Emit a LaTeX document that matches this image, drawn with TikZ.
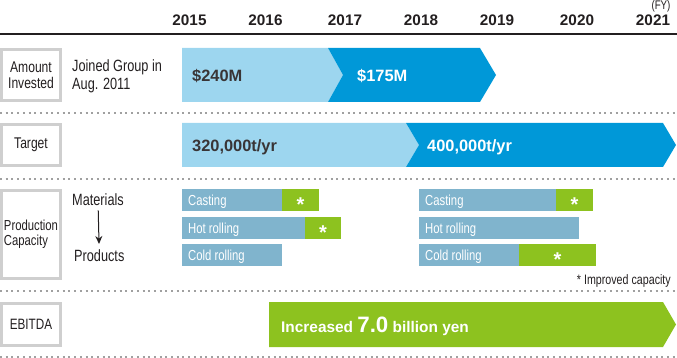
\documentclass[tikz,border=0pt]{standalone}
\usepackage{fontspec}
\setmainfont{Liberation Sans}
\newfontfamily\condfont[FakeStretch=0.78]{Liberation Sans}
\usepackage{xcolor}
\usetikzlibrary{positioning, arrows.meta}

\definecolor{lightblue}{HTML}{9DD6EF}
\definecolor{darkblue}{HTML}{0098D8}
\definecolor{steelbar}{HTML}{80B4CD}
\definecolor{limegreen}{HTML}{8DC21F}
\definecolor{boxgray}{HTML}{CFCFCF}
\definecolor{dotgray}{HTML}{A0A0A0}
\definecolor{inkgray}{HTML}{231F20}

\begin{document}
\begin{tikzpicture}[
    x=1pt, y=-1pt,
    rowlabel/.style={rectangle, draw=boxgray, line width=2.6pt, fill=white, align=center, inner sep=0pt, minimum width=59.4pt, text=inkgray, font=\condfont\fontsize{15.5}{15.5}\selectfont},
    year/.style={anchor=base, inner sep=0pt, text=inkgray, font=\bfseries\fontsize{15.3}{18}\selectfont},
    plain/.style={inner sep=0pt, text=inkgray, font=\condfont\fontsize{16.3}{18}\selectfont},
    amount/.style={anchor=base west, inner sep=0pt, font=\bfseries\fontsize{16.4}{19}\selectfont},
    barlabel/.style={anchor=base west, inner sep=0pt, text=white, font=\condfont\fontsize{14.5}{15}\selectfont},
    improved/.style={anchor=base, inner sep=0pt, text=white, font=\bfseries\fontsize{20}{20}\selectfont},
    rowsep/.style={draw=dotgray, line width=1.1pt, dash pattern=on 2pt off 3.7pt},
    arrow/.style={-{Stealth[length=8pt, width=7pt]}, line width=1pt, inkgray}
]
\useasboundingbox (0,0) rectangle (677,358);

% years
\node[year] (y2015) at (189.5,26) {2015};
\node[year] (y2016) at (265.5,26) {2016};
\node[year] (y2017) at (345,26) {2017};
\node[year] (y2018) at (421,26) {2018};
\node[year] (y2019) at (497,26) {2019};
\node[year] (y2020) at (577,26) {2020};
\node[year] (y2021) at (653,26) {2021};
\node[plain, anchor=base, font=\condfont\fontsize{12.5}{14}\selectfont] (fy) at (661,10) {(FY)};
\draw[inkgray, line width=1.5pt] (0,34) -- (677,34);

% row separators
\draw[rowsep] (0,113) -- (677,113);
\draw[rowsep] (0,179) -- (677,179);
\draw[rowsep] (0,291) -- (677,291);
\draw[rowsep] (0,357) -- (677,357);

% row labels
\node[rowlabel, minimum height=51.4pt] (invested) at (31,75) {Amount\\Invested};
\node[rowlabel, minimum height=41.4pt] (target) at (31,145) {Target};
\node[rowlabel, minimum height=88.4pt, align=left, font=\condfont\fontsize{14.5}{15.5}\selectfont] (capacity) at (31,234.5) {Production\\Capacity};
\node[rowlabel, minimum height=42.4pt, font=\condfont\fontsize{15}{15.5}\selectfont] (ebitda) at (31,324.5) {EBITDA};

% amount invested
\node[plain, anchor=west, align=left] (joined) at (72,76) {Joined Group in\\Aug. 2011};
\fill[lightblue] (182,48) -- (328,48) -- (343,75) -- (328,102) -- (182,102) -- cycle;
\fill[darkblue] (328,48) -- (480,48) -- (496,75) -- (480,102) -- (328,102) -- (343,75) -- cycle;
\node[amount, text=inkgray!90] (first) at (192,82) {\$240M};
\node[amount, text=white] (second) at (357,82) {\$175M};

% target
\fill[lightblue] (182,123) -- (406,123) -- (419,145) -- (406,167) -- (182,167) -- cycle;
\fill[darkblue] (406,123) -- (663,123) -- (676,145) -- (663,167) -- (406,167) -- (419,145) -- cycle;
\node[amount, text=inkgray!90] (oldtarget) at (192,152) {320,000t/yr};
\node[amount, text=white] (newtarget) at (427,152) {400,000t/yr};

% production capacity
\node[plain, anchor=base west] (mat) at (72,206) {Materials};
\node[plain, anchor=base west] (prod) at (74,261) {Products};
\draw[arrow, shorten <=4pt, shorten >=5pt] (mat) -- (prod);

\fill[steelbar] (182,189) rectangle (282,211);
\fill[limegreen] (282,189) rectangle (319,211);
\fill[steelbar] (182,217) rectangle (305,239);
\fill[limegreen] (305,217) rectangle (341,239);
\fill[steelbar] (182,244) rectangle (282,266);
\node[barlabel] (cast1) at (188,205.5) {Casting};
\node[barlabel] (hot1) at (188,233.5) {Hot rolling};
\node[barlabel] (cold1) at (188,260.5) {Cold rolling};
\node[improved] (star1) at (300.5,211.6) {*};
\node[improved] (star2) at (323,239.6) {*};

\fill[steelbar] (419,189) rectangle (556,211);
\fill[limegreen] (556,189) rectangle (593,211);
\fill[steelbar] (419,217) rectangle (579,239);
\fill[steelbar] (419,244) rectangle (519,266);
\fill[limegreen] (519,244) rectangle (596,266);
\node[barlabel] (cast2) at (425,205.5) {Casting};
\node[barlabel] (hot2) at (425,233.5) {Hot rolling};
\node[barlabel] (cold2) at (425,260.5) {Cold rolling};
\node[improved] (star3) at (574.5,211.6) {*};
\node[improved] (star4) at (557.5,266.6) {*};

\node[plain, anchor=base east, font=\condfont\fontsize{13.7}{14}\selectfont] (note) at (671,284) {* Improved capacity};

% ebitda
\fill[limegreen] (269,302) -- (663,302) -- (676,324.5) -- (663,347) -- (269,347) -- cycle;
\node[amount, text=white, font=\bfseries\fontsize{15.4}{18}\selectfont] (gain) at (281,332) {Increased {\fontsize{22.3}{24}\selectfont 7.0} billion yen};

\end{tikzpicture}
\end{document}
